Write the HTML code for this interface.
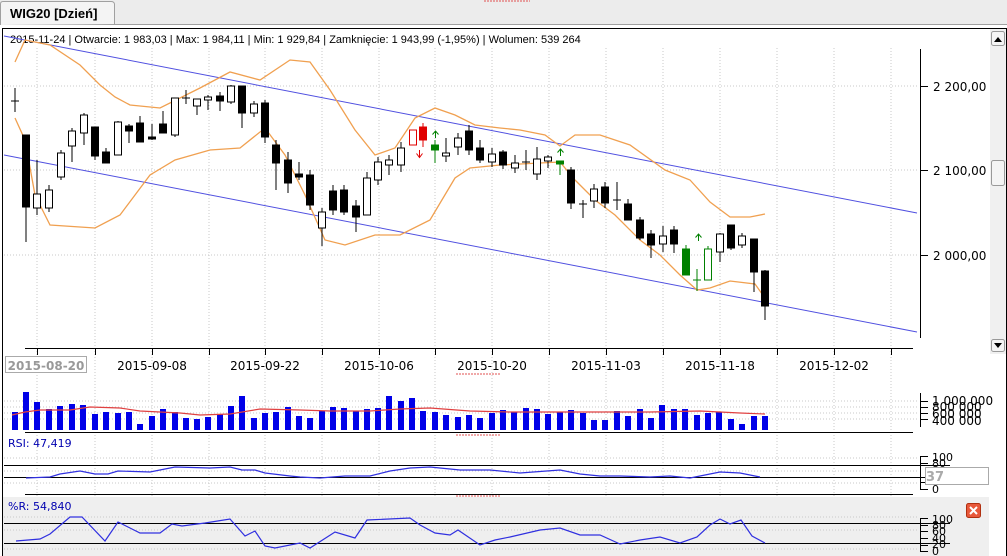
<!DOCTYPE html>
<html><head><meta charset="utf-8"><style>
body{margin:0;width:1007px;height:556px;overflow:hidden;background:#fff;font-family:"Liberation Sans",sans-serif}
svg{display:block}
text{font-family:"DejaVu Sans","Liberation Sans",sans-serif}
.w{fill:#fff;stroke:#000;stroke-width:1}
.b{fill:#000;stroke:#000;stroke-width:1}
.wk{stroke:#000;stroke-width:1}
.g{stroke:#c8c8c8;stroke-dasharray:1 2;stroke-width:1}
</style></head><body>
<svg width="1007" height="556" viewBox="0 0 1007 556">
<rect x="0" y="0" width="1007" height="25" fill="#ececec"/>
<line x1="0" y1="24.5" x2="1007" y2="24.5" stroke="#a0a0a0"/>
<path d="M0.5 25 V4 Q0.5 1.5 3 1.5 H111 Q114 1.5 114.5 4 V24" fill="#f4f4f4" stroke="#a0a0a0"/>
<text x="10" y="18" font-size="13" font-weight="bold" fill="#000" style="font-family:'Liberation Sans',sans-serif">WIG20 [Dzień]</text>
<line x1="484" y1="1" x2="530" y2="1" stroke="#e05050" stroke-dasharray="2 1"/>
<rect x="2.5" y="28.5" width="1004" height="528" fill="#fff" stroke="#000"/>
<g class="g">
<line x1="4" y1="86" x2="918" y2="86"/><line x1="4" y1="170" x2="918" y2="170"/><line x1="4" y1="255" x2="918" y2="255"/>
<line x1="37" y1="48" x2="37" y2="556"/><line x1="95" y1="48" x2="95" y2="556"/><line x1="152" y1="48" x2="152" y2="556"/><line x1="209" y1="48" x2="209" y2="556"/><line x1="265" y1="48" x2="265" y2="556"/><line x1="322" y1="48" x2="322" y2="556"/><line x1="379" y1="48" x2="379" y2="556"/><line x1="435" y1="48" x2="435" y2="556"/><line x1="492" y1="48" x2="492" y2="556"/><line x1="549" y1="48" x2="549" y2="556"/><line x1="606" y1="48" x2="606" y2="556"/><line x1="663" y1="48" x2="663" y2="556"/><line x1="720" y1="48" x2="720" y2="556"/><line x1="777" y1="48" x2="777" y2="556"/><line x1="834" y1="48" x2="834" y2="556"/><line x1="891" y1="48" x2="891" y2="556"/>
</g>
<text x="10" y="43" font-size="11" fill="#000" style="font-family:'Liberation Sans',sans-serif">2015-11-24 | Otwarcie: 1 983,03 | Max: 1 984,11 | Min: 1 929,84 | Zamknięcie: 1 943,99 (-1,95%)  | Wolumen: 539 264</text>
<line x1="4" y1="36" x2="917" y2="213" stroke="#5050e0"/>
<line x1="4" y1="155" x2="917" y2="332" stroke="#5050e0"/>
<g fill="none" stroke="#f0a050" stroke-width="1.3">
<polyline points="15,62 25,40 50,45 80,65 100,85 115,97 130,105 160,108 200,88 230,72 260,80 290,60 310,62 330,90 355,130 375,155 395,148 415,118 435,108 455,115 475,125 500,128 520,130 545,135 560,146 575,135 600,135 630,145 665,170 690,180 710,202 730,217 750,217 765,214"/>
<polyline points="15,118 25,140 35,195 50,225 95,228 120,215 150,175 175,160 210,150 240,148 265,128 285,155 305,195 325,240 345,245 375,235 400,235 430,220 455,178 470,168 500,165 540,163 560,162 575,180 595,200 615,215 640,240 660,255 680,275 697,290 710,288 730,281 755,284 765,298"/>
</g>
<g class="wk">
<line x1="15" y1="88" x2="15" y2="112"/><line x1="11" y1="101" x2="19" y2="101"/>
<line x1="26" y1="135" x2="26" y2="242"/><rect x="22.5" y="135" width="7" height="72" class="b"/>
<line x1="37" y1="160" x2="37" y2="215"/><rect x="33.5" y="194" width="7" height="14" class="w"/>
<line x1="49" y1="185" x2="49" y2="212"/><rect x="45.5" y="190" width="7" height="18" class="w"/>
<line x1="61" y1="150" x2="61" y2="180"/><rect x="57.5" y="153" width="7" height="24" class="w"/>
<line x1="72" y1="128" x2="72" y2="162"/><rect x="68.5" y="131" width="7" height="15" class="w"/>
<line x1="84" y1="113" x2="84" y2="145"/><rect x="80.5" y="115" width="7" height="18" class="w"/>
<line x1="95" y1="127" x2="95" y2="160"/><rect x="91.5" y="127" width="7" height="29" class="b"/>
<line x1="106" y1="148" x2="106" y2="163"/><rect x="102.5" y="152" width="7" height="11" class="b"/>
<line x1="118" y1="121" x2="118" y2="155"/><rect x="114.5" y="122" width="7" height="33" class="w"/>
<line x1="129" y1="124" x2="129" y2="143"/><rect x="125.5" y="126" width="7" height="5" class="b"/>
<line x1="140" y1="116" x2="140" y2="142"/><rect x="136.5" y="123" width="7" height="19" class="b"/>
<line x1="152" y1="124" x2="152" y2="140"/><rect x="148.5" y="137" width="7" height="2" class="b"/>
<line x1="163" y1="111" x2="163" y2="133"/><rect x="159.5" y="124" width="7" height="9" class="b"/>
<line x1="175" y1="98" x2="175" y2="137"/><rect x="171.5" y="98" width="7" height="37" class="w"/>
<line x1="186" y1="90" x2="186" y2="104"/><line x1="182" y1="98" x2="190" y2="98"/>
<line x1="197" y1="99" x2="197" y2="115"/><rect x="193.5" y="99" width="7" height="7" class="w"/>
<line x1="208" y1="95" x2="208" y2="110"/><rect x="204.5" y="97" width="7" height="3" class="w"/>
<line x1="220" y1="92" x2="220" y2="111"/><rect x="216.5" y="96" width="7" height="5" class="b"/>
<line x1="231" y1="85" x2="231" y2="104"/><rect x="227.5" y="86" width="7" height="16" class="w"/>
<line x1="242" y1="86" x2="242" y2="128"/><rect x="238.5" y="86" width="7" height="27" class="b"/>
<line x1="254" y1="101" x2="254" y2="117"/><rect x="250.5" y="104" width="7" height="9" class="w"/>
<line x1="265" y1="100" x2="265" y2="143"/><rect x="261.5" y="103" width="7" height="34" class="b"/>
<line x1="276" y1="140" x2="276" y2="190"/><rect x="272.5" y="145" width="7" height="18" class="b"/>
<line x1="288" y1="152" x2="288" y2="193"/><rect x="284.5" y="160" width="7" height="23" class="b"/>
<line x1="299" y1="162" x2="299" y2="180"/><rect x="295.5" y="174" width="7" height="3" class="b"/>
<line x1="310" y1="170" x2="310" y2="210"/><rect x="306.5" y="175" width="7" height="30" class="b"/>
<line x1="322" y1="208" x2="322" y2="246"/><rect x="318.5" y="212" width="7" height="16" class="w"/>
<line x1="333" y1="185" x2="333" y2="215"/><rect x="329.5" y="191" width="7" height="19" class="b"/>
<line x1="344" y1="185" x2="344" y2="215"/><rect x="340.5" y="190" width="7" height="22" class="b"/>
<line x1="356" y1="200" x2="356" y2="232"/><rect x="352.5" y="206" width="7" height="11" class="b"/>
<line x1="367" y1="172" x2="367" y2="215"/><rect x="363.5" y="178" width="7" height="37" class="w"/>
<line x1="378" y1="157" x2="378" y2="185"/><rect x="374.5" y="162" width="7" height="18" class="w"/>
<line x1="389" y1="155" x2="389" y2="175"/><rect x="385.5" y="160" width="7" height="5" class="w"/>
<line x1="401" y1="142" x2="401" y2="172"/><rect x="397.5" y="148" width="7" height="17" class="w"/>
<rect x="409.5" y="130" width="7" height="15" fill="#fff" stroke="#e00000"/>
<line x1="423" y1="123" x2="423" y2="147" stroke="#e00000"/><rect x="419.5" y="127" width="7" height="13" fill="#e00000" stroke="#e00000"/>
<path d="M419.5 157 V150 M416.5 153.5 L419.5 157.5 L422.5 153.5" fill="none" stroke="#e00000"/>
<line x1="435" y1="140" x2="435" y2="163" stroke="#008000"/><rect x="431.5" y="145" width="7" height="5" fill="#008000" stroke="#008000"/>
<path d="M435.5 131 V138 M432.5 134.5 L435.5 131 L438.5 134.5" fill="none" stroke="#008000"/>
<line x1="446" y1="138" x2="446" y2="162"/><rect x="442.5" y="153" width="7" height="3" class="w"/>
<line x1="458" y1="133" x2="458" y2="155"/><rect x="454.5" y="138" width="7" height="9" class="w"/>
<line x1="469" y1="125" x2="469" y2="155"/><rect x="465.5" y="131" width="7" height="19" class="b"/>
<line x1="480" y1="140" x2="480" y2="163"/><rect x="476.5" y="148" width="7" height="12" class="b"/>
<line x1="492" y1="148" x2="492" y2="167"/><rect x="488.5" y="154" width="7" height="8" class="w"/>
<line x1="503" y1="150" x2="503" y2="169"/><rect x="499.5" y="152" width="7" height="13" class="b"/>
<line x1="515" y1="155" x2="515" y2="173"/><rect x="511.5" y="163" width="7" height="5" class="w"/>
<line x1="526" y1="150" x2="526" y2="170"/><line x1="522" y1="162" x2="530" y2="162"/>
<line x1="537" y1="147" x2="537" y2="180"/><rect x="533.5" y="159" width="7" height="15" class="w"/>
<line x1="548" y1="155" x2="548" y2="168"/><rect x="544.5" y="157" width="7" height="4" class="w"/>
<line x1="560" y1="162" x2="560" y2="175" stroke="#008000"/><rect x="556.5" y="161" width="7" height="3" fill="#008000" stroke="#008000"/>
<path d="M560.5 149 V156 M557.5 152.5 L560.5 149 L563.5 152.5" fill="none" stroke="#008000"/>
<line x1="571" y1="167" x2="571" y2="209"/><rect x="567.5" y="170" width="7" height="33" class="b"/>
<line x1="583" y1="200" x2="583" y2="218"/><line x1="579" y1="204" x2="587" y2="204"/>
<line x1="594" y1="184" x2="594" y2="208"/><rect x="590.5" y="189" width="7" height="12" class="w"/>
<line x1="605" y1="182" x2="605" y2="208"/><rect x="601.5" y="187" width="7" height="16" class="b"/>
<line x1="617" y1="182" x2="617" y2="210"/><line x1="613" y1="200" x2="621" y2="200"/>
<line x1="628" y1="199" x2="628" y2="220"/><rect x="624.5" y="204" width="7" height="16" class="b"/>
<line x1="640" y1="217" x2="640" y2="240"/><rect x="636.5" y="220" width="7" height="18" class="b"/>
<line x1="651" y1="230" x2="651" y2="258"/><rect x="647.5" y="234" width="7" height="11" class="b"/>
<line x1="663" y1="226" x2="663" y2="252"/><rect x="659.5" y="236" width="7" height="8" class="w"/>
<line x1="674" y1="226" x2="674" y2="253"/><rect x="670.5" y="230" width="7" height="14" class="b"/>
<line x1="686" y1="245" x2="686" y2="275" stroke="#008000"/><rect x="682.5" y="249" width="7" height="26" fill="#008000" stroke="#008000"/>
<line x1="697" y1="269" x2="697" y2="291" stroke="#008000"/><line x1="693" y1="280" x2="701" y2="280" stroke="#008000"/>
<path d="M698.5 234 V241 M695.5 237.5 L698.5 234 L701.5 237.5" fill="none" stroke="#008000"/>
<line x1="708" y1="246" x2="708" y2="280" stroke="#008000"/><rect x="704.5" y="249" width="7" height="31" fill="#fff" stroke="#008000"/>
<line x1="720" y1="233" x2="720" y2="262"/><rect x="716.5" y="234" width="7" height="18" class="w"/>
<line x1="731" y1="225" x2="731" y2="250"/><rect x="727.5" y="225" width="7" height="23" class="b"/>
<line x1="742" y1="233" x2="742" y2="248"/><rect x="738.5" y="236" width="7" height="9" class="w"/>
<line x1="754" y1="239" x2="754" y2="292"/><rect x="750.5" y="239" width="7" height="33" class="b"/>
<line x1="765" y1="270" x2="765" y2="320"/><rect x="761.5" y="271" width="7" height="35" class="b"/>
</g>
<line x1="920.5" y1="49" x2="920.5" y2="338" stroke="#000"/>
<g stroke="#000"><line x1="920" y1="86.5" x2="928" y2="86.5"/><line x1="920" y1="170.5" x2="928" y2="170.5"/><line x1="920" y1="255.5" x2="928" y2="255.5"/></g>
<g font-size="12" fill="#000"><text x="933" y="91">2 200,00</text><text x="933" y="175">2 100,00</text><text x="933" y="260">2 000,00</text></g>
<rect x="990" y="29" width="16" height="325" fill="#f0f0f0"/>
<rect x="991.5" y="31.5" width="13" height="14" fill="#f4f4f4" stroke="#999" rx="2"/><path d="M994 42 L998 37 L1002 42Z" fill="#000"/>
<rect x="991.5" y="160.5" width="13" height="25" fill="#f4f4f4" stroke="#999" rx="2"/>
<rect x="991.5" y="339.5" width="13" height="12" fill="#f4f4f4" stroke="#999" rx="2"/><path d="M994 343 L998 348 L1002 343Z" fill="#000"/>
<line x1="25" y1="348.5" x2="913" y2="348.5" stroke="#000"/>
<g stroke="#000"><line x1="37.5" y1="348" x2="37.5" y2="355"/><line x1="95.5" y1="348" x2="95.5" y2="355"/><line x1="152.5" y1="348" x2="152.5" y2="355"/><line x1="209.5" y1="348" x2="209.5" y2="355"/><line x1="265.5" y1="348" x2="265.5" y2="355"/><line x1="322.5" y1="348" x2="322.5" y2="355"/><line x1="379.5" y1="348" x2="379.5" y2="355"/><line x1="435.5" y1="348" x2="435.5" y2="355"/><line x1="492.5" y1="348" x2="492.5" y2="355"/><line x1="549.5" y1="348" x2="549.5" y2="355"/><line x1="606.5" y1="348" x2="606.5" y2="355"/><line x1="663.5" y1="348" x2="663.5" y2="355"/><line x1="720.5" y1="348" x2="720.5" y2="355"/><line x1="777.5" y1="348" x2="777.5" y2="355"/><line x1="834.5" y1="348" x2="834.5" y2="355"/><line x1="891.5" y1="348" x2="891.5" y2="355"/></g>
<rect x="5.5" y="356.5" width="81" height="16" fill="#fff" stroke="#aaa"/>
<g font-size="12" fill="#000" text-anchor="middle">
<text x="46" y="370" fill="#999" font-weight="bold">2015-08-20</text>
<text x="152" y="370">2015-09-08</text><text x="265" y="370">2015-09-22</text><text x="379" y="370">2015-10-06</text><text x="492" y="370">2015-10-20</text><text x="606" y="370">2015-11-03</text><text x="720" y="370">2015-11-18</text><text x="834" y="370">2015-12-02</text>
</g>
<line x1="456" y1="374" x2="500" y2="374" stroke="#e05050" stroke-dasharray="2 1"/>
<g class="g"><line x1="4" y1="401" x2="918" y2="401"/><line x1="4" y1="407" x2="918" y2="407"/><line x1="4" y1="413" x2="918" y2="413"/><line x1="4" y1="419" x2="918" y2="419"/></g>
<g fill="#0000e8">
<rect x="12" y="412" width="6" height="18"/><rect x="23" y="392" width="6" height="38"/><rect x="34" y="402" width="6" height="28"/><rect x="46" y="409" width="6" height="21"/><rect x="57" y="406" width="6" height="24"/><rect x="69" y="404" width="6" height="26"/><rect x="80" y="405" width="6" height="25"/><rect x="92" y="414" width="6" height="16"/><rect x="103" y="412" width="6" height="18"/><rect x="115" y="413" width="6" height="17"/><rect x="126" y="412" width="6" height="18"/><rect x="137" y="424" width="6" height="6"/><rect x="149" y="416" width="6" height="14"/><rect x="160" y="409" width="6" height="21"/><rect x="172" y="412" width="6" height="18"/><rect x="183" y="418" width="6" height="12"/><rect x="194" y="419" width="6" height="11"/><rect x="205" y="417" width="6" height="13"/><rect x="217" y="414" width="6" height="16"/><rect x="228" y="406" width="6" height="24"/><rect x="239" y="396" width="6" height="34"/><rect x="251" y="418" width="6" height="12"/><rect x="262" y="413" width="6" height="17"/><rect x="273" y="412" width="6" height="18"/><rect x="285" y="407" width="6" height="23"/><rect x="296" y="416" width="6" height="14"/><rect x="307" y="418" width="6" height="12"/><rect x="319" y="411" width="6" height="19"/><rect x="330" y="407" width="6" height="23"/><rect x="341" y="408" width="6" height="22"/><rect x="353" y="411" width="6" height="19"/><rect x="364" y="409" width="6" height="21"/><rect x="375" y="408" width="6" height="22"/><rect x="386" y="396" width="6" height="34"/><rect x="398" y="401" width="6" height="29"/><rect x="409" y="398" width="6" height="32"/><rect x="420" y="411" width="6" height="19"/><rect x="432" y="412" width="6" height="18"/><rect x="443" y="415" width="6" height="15"/><rect x="455" y="417" width="6" height="13"/><rect x="466" y="415" width="6" height="15"/><rect x="477" y="418" width="6" height="12"/><rect x="489" y="413" width="6" height="17"/><rect x="500" y="410" width="6" height="20"/><rect x="511" y="412" width="6" height="18"/><rect x="523" y="408" width="6" height="22"/><rect x="534" y="409" width="6" height="21"/><rect x="545" y="414" width="6" height="16"/><rect x="557" y="412" width="6" height="18"/><rect x="568" y="410" width="6" height="20"/><rect x="580" y="413" width="6" height="17"/><rect x="591" y="420" width="6" height="10"/><rect x="602" y="420" width="6" height="10"/><rect x="614" y="411" width="6" height="19"/><rect x="625" y="416" width="6" height="14"/><rect x="637" y="409" width="6" height="21"/><rect x="648" y="418" width="6" height="12"/><rect x="659" y="405" width="6" height="25"/><rect x="671" y="409" width="6" height="21"/><rect x="682" y="409" width="6" height="21"/><rect x="694" y="415" width="6" height="15"/><rect x="705" y="413" width="6" height="17"/><rect x="716" y="412" width="6" height="18"/><rect x="728" y="419" width="6" height="11"/><rect x="739" y="424" width="6" height="6"/><rect x="751" y="416" width="6" height="14"/><rect x="762" y="416" width="6" height="14"/>
</g>
<polyline fill="none" stroke="#e04040" stroke-width="1.2" points="12,415 25,412 40,410 70,410 90,407 120,408 140,411 160,412 180,413 200,415 230,414 260,409 300,410 330,411 370,411 400,409 430,408 470,411 510,412 550,412 600,412 650,412 700,411 740,413 765,414"/>
<line x1="25" y1="432.5" x2="913" y2="432.5" stroke="#000"/>
<line x1="456" y1="435" x2="500" y2="435" stroke="#e05050" stroke-dasharray="2 1"/>
<line x1="920.5" y1="393" x2="920.5" y2="427" stroke="#000"/>
<g stroke="#000"><line x1="920" y1="401.5" x2="928" y2="401.5"/><line x1="920" y1="407.5" x2="928" y2="407.5"/><line x1="920" y1="413.5" x2="928" y2="413.5"/><line x1="920" y1="419.5" x2="928" y2="419.5"/></g>
<g font-size="12" fill="#000"><text x="932" y="405">1 000 000</text><text x="932" y="411">800 000</text><text x="932" y="418">600 000</text><text x="932" y="425">400 000</text></g>
<text x="8" y="447" font-size="11" fill="#0000b0">RSI: 47,419</text>
<g class="g"><line x1="4" y1="458" x2="918" y2="458"/><line x1="4" y1="471" x2="918" y2="471"/><line x1="4" y1="483" x2="918" y2="483"/></g>
<line x1="4" y1="465.5" x2="950" y2="465.5" stroke="#000"/><line x1="4" y1="477.5" x2="950" y2="477.5" stroke="#000"/>
<polyline fill="none" stroke="#3030e0" stroke-width="1.2" points="26,478 50,477 60,474 80,471 95,474 108,474 118,471 150,472 175,467 210,468 230,467 242,470 255,470 265,473 290,476 300,477 320,478 345,476 370,476 390,471 410,468 430,467 460,470 490,470 520,473 560,470 580,474 600,476 620,476 650,477 670,476 690,478 710,474 720,472 740,473 760,477"/>
<line x1="25" y1="494.5" x2="913" y2="494.5" stroke="#000"/>
<line x1="456" y1="496" x2="500" y2="496" stroke="#e05050" stroke-dasharray="2 1"/>
<line x1="920.5" y1="456" x2="920.5" y2="489" stroke="#000"/>
<g stroke="#000"><line x1="920" y1="456.5" x2="928" y2="456.5"/><line x1="920" y1="463.5" x2="928" y2="463.5"/><line x1="920" y1="482.5" x2="928" y2="482.5"/><line x1="920" y1="489.5" x2="928" y2="489.5"/></g>
<g font-size="11" fill="#000"><text x="932" y="461">100</text><text x="932" y="467">80</text><text x="932" y="493">0</text></g>
<rect x="925.5" y="467.5" width="63" height="17" fill="#fff" stroke="#aaa"/>
<text x="926" y="481" font-size="13" fill="#aaa" font-weight="bold">37</text>
<rect x="3" y="497" width="986" height="59" fill="#efefef"/>
<text x="8" y="510" font-size="11" fill="#0000b0">%R: 54,840</text>
<g class="g"><line x1="4" y1="517" x2="918" y2="517"/><line x1="4" y1="530" x2="918" y2="530"/><line x1="4" y1="549" x2="918" y2="549"/></g>
<line x1="4" y1="523.5" x2="950" y2="523.5" stroke="#000"/><line x1="4" y1="543.5" x2="950" y2="543.5" stroke="#000"/>
<polyline fill="none" stroke="#3030e0" stroke-width="1.2" points="16,541 40,539 50,534 70,517 82,517 105,541 118,522 140,533 160,533 172,524 182,526 205,523 230,519 245,536 255,531 265,546 275,548 300,543 310,548 335,532 355,538 367,520 410,518 420,525 435,533 450,535 458,530 480,545 495,540 510,537 540,530 560,528 580,535 600,535 620,544 640,540 660,537 680,543 697,537 710,525 720,519 730,524 741,520 752,536 765,543"/>
<line x1="920.5" y1="518" x2="920.5" y2="552" stroke="#000"/>
<g stroke="#000"><line x1="920" y1="518.5" x2="928" y2="518.5"/><line x1="920" y1="525.5" x2="928" y2="525.5"/><line x1="920" y1="531.5" x2="928" y2="531.5"/><line x1="920" y1="538.5" x2="928" y2="538.5"/><line x1="920" y1="545.5" x2="928" y2="545.5"/><line x1="920" y1="551.5" x2="928" y2="551.5"/></g>
<g font-size="11" fill="#000"><text x="932" y="523">100</text><text x="932" y="529">80</text><text x="932" y="535">60</text><text x="932" y="542">40</text><text x="932" y="548">20</text><text x="932" y="555">0</text></g>
<rect x="966.5" y="503.5" width="14" height="14" fill="#e8583a" stroke="#b03010" rx="2"/>
<path d="M970 507 L977 514 M977 507 L970 514" stroke="#fff" stroke-width="2"/>
</svg>
</body></html>
